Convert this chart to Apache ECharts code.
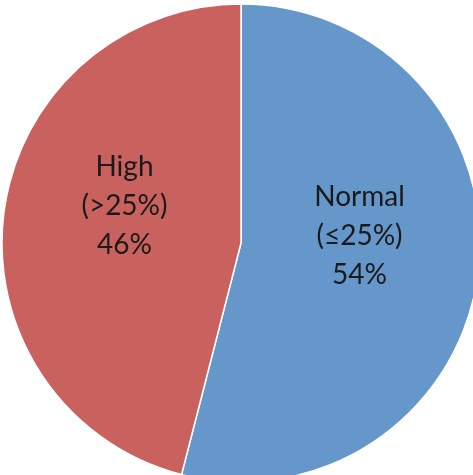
<!DOCTYPE html>
<html>
<head>
<meta charset="utf-8">
<script src="https://cdn.jsdelivr.net/npm/echarts@6/dist/echarts.min.js"></script>
<style>
  html, body { margin: 0; padding: 0; background: #ffffff; }
  #chart { width: 473px; height: 475px; }
</style>
</head>
<body>
<div id="chart"></div>
<script>
// Share of cases by level
const categories = ['Normal', 'High'];
const ranges = ['(≤25%)', '(>25%)'];
const shares = [54, 46];
const colors = ['#6597CA', '#C9625E'];

const chart = echarts.init(document.getElementById('chart'), null, { renderer: 'canvas' });

chart.setOption({
  animation: false,
  backgroundColor: '#ffffff',
  series: [{
    type: 'pie',
    center: [241, 243],
    radius: 239,
    startAngle: 90,
    clockwise: true,
    silent: true,
    data: categories.map((name, i) => ({
      name: name,
      value: shares[i],
      range: ranges[i],
      itemStyle: { color: colors[i] }
    })),
    itemStyle: { borderColor: '#ffffff', borderWidth: 1.5 },
    label: {
      show: true,
      position: 'inside',
      formatter: (p) => p.name + '\n' + p.data.range + '\n' + p.value + '%',
      color: '#1a1a1a',
      fontFamily: 'Lato',
      fontSize: 28,
      lineHeight: 39,
      align: 'center'
    },
    labelLine: { show: false },
    // nudge labels slightly toward the pie centre
    labelLayout: (params) => ({ dx: params.dataIndex === 0 ? -3 : 5, dy: -22 })
  }]
});
</script>
</body>
</html>
